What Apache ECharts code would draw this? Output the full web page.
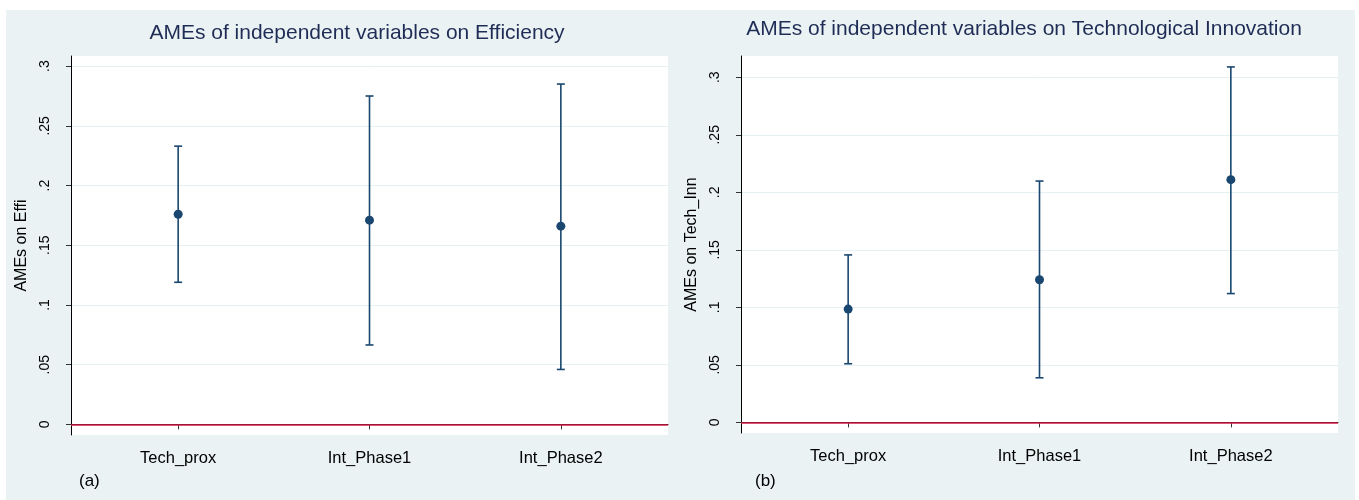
<!DOCTYPE html>
<html>
<head>
<meta charset="utf-8">
<script src="https://cdn.jsdelivr.net/npm/echarts@6/dist/echarts.min.js"></script>
<style>
  html, body { margin: 0; padding: 0; background: #ffffff; }
  #frame { position: absolute; left: 6px; top: 10px; width: 1349px; height: 490px; background: #eaf2f3; }
  #chart { width: 100%; height: 100%; }
</style>
</head>
<body>
<div id="frame"><div id="chart"></div></div>
<script>
// Variables on the x axis
const categories = ['Tech_prox', 'Int_Phase1', 'Int_Phase2'];

// Panel (a): average marginal effects on Efficiency, with 95% CI bounds
const effiEst = [0.176, 0.171, 0.166];
const effiLo  = [0.119, 0.0665, 0.046];
const effiHi  = [0.233, 0.275, 0.285];

// Panel (b): average marginal effects on Technological Innovation
const innEst = [0.0985, 0.124, 0.211];
const innLo  = [0.051, 0.0388, 0.112];
const innHi  = [0.1456, 0.2098, 0.309];

// Shared y tick values
const yTicks = [0, 0.05, 0.1, 0.15, 0.2, 0.25, 0.3];
const xTicks = [1, 2, 3];

const NAVY = '#1a476f';
const RED = '#d01c45';
const FONT = '"Liberation Sans", Arial, sans-serif';

function fmtY(v) {
  if (Math.abs(v) < 1e-9) return '0';
  return String(+v.toFixed(2)).replace(/^0\./, '.');
}

function xAxis(idx) {
  return {
    type: 'value', gridIndex: idx, min: 0.44, max: 3.56,
    axisLine: { show: true, lineStyle: { color: '#000', width: 1 } },
    axisTick: { show: true, customValues: xTicks, length: 5, lineStyle: { color: '#333' } },
    axisLabel: {
      customValues: xTicks, margin: 15, color: '#000', fontFamily: FONT, fontSize: 16.5,
      formatter: v => categories[Math.round(v) - 1] || ''
    },
    splitLine: { show: false }
  };
}

function yAxis(idx, min, max, name) {
  return {
    type: 'value', gridIndex: idx, min: min, max: max,
    name: name, nameLocation: 'middle', nameGap: 41,
    nameTextStyle: { color: '#000', fontFamily: FONT, fontSize: 16 },
    axisLine: { show: true, lineStyle: { color: '#000', width: 1 } },
    axisTick: { show: true, customValues: yTicks, length: 5, lineStyle: { color: '#333' } },
    axisLabel: {
      customValues: yTicks, rotate: 90, margin: 19, color: '#000',
      fontFamily: FONT, fontSize: 14, formatter: fmtY
    },
    splitLine: { show: true, customValues: yTicks, lineStyle: { color: '#e6eff1', width: 1 } }
  };
}

function ciData(lo, hi) {
  return categories.map((c, i) => [i + 1, lo[i], hi[i]]);
}

function pointData(est) {
  return categories.map((c, i) => [i + 1, est[i]]);
}

function renderCI(params, api) {
  const x = api.value(0);
  const a = api.coord([x, api.value(1)]);
  const b = api.coord([x, api.value(2)]);
  const w = 4;
  const st = { stroke: NAVY, lineWidth: 1.6 };
  return {
    type: 'group',
    children: [
      { type: 'line', shape: { x1: a[0], y1: a[1], x2: b[0], y2: b[1] }, style: st },
      { type: 'line', shape: { x1: a[0] - w, y1: a[1], x2: a[0] + w, y2: a[1] }, style: st },
      { type: 'line', shape: { x1: b[0] - w, y1: b[1], x2: b[0] + w, y2: b[1] }, style: st }
    ]
  };
}

function panelSeries(idx, est, lo, hi) {
  return [
    {
      type: 'custom', xAxisIndex: idx, yAxisIndex: idx,
      renderItem: renderCI, data: ciData(lo, hi), silent: true, z: 3,
      markLine: {
        silent: true, symbol: 'none', label: { show: false },
        lineStyle: { color: RED, width: 1.6, type: 'solid' },
        data: [{ yAxis: 0 }]
      }
    },
    {
      type: 'scatter', xAxisIndex: idx, yAxisIndex: idx,
      data: pointData(est), symbol: 'circle', symbolSize: 9,
      itemStyle: { color: NAVY, opacity: 1 }, z: 4, silent: true
    }
  ];
}

const chart = echarts.init(document.getElementById('chart'), null, { renderer: 'canvas' });

chart.setOption({
  animation: false,
  backgroundColor: 'transparent',
  textStyle: { fontFamily: FONT },
  title: [
    { text: 'AMEs of independent variables on Efficiency', left: 346, top: 8, textAlign: 'center',
      textStyle: { color: '#1f2d56', fontFamily: FONT, fontSize: 21, fontWeight: 'normal' } },
    { text: 'AMEs of independent variables on Technological Innovation', left: 1013, top: 4, textAlign: 'center',
      textStyle: { color: '#1f2d56', fontFamily: FONT, fontSize: 21, fontWeight: 'normal' } },
    { text: '(a)', left: 68, top: 458,
      textStyle: { color: '#000', fontFamily: FONT, fontSize: 17, fontWeight: 'normal' } },
    { text: '(b)', left: 744, top: 458,
      textStyle: { color: '#000', fontFamily: FONT, fontSize: 17, fontWeight: 'normal' } }
  ],
  grid: [
    { left: 65, top: 46, width: 597, height: 379, show: true, backgroundColor: '#ffffff', borderWidth: 0 },
    { left: 735, top: 46, width: 597, height: 377, show: true, backgroundColor: '#ffffff', borderWidth: 0 }
  ],
  xAxis: [xAxis(0), xAxis(1)],
  yAxis: [
    yAxis(0, -0.0089, 0.3085, 'AMEs on Effi'),
    yAxis(1, -0.0092, 0.3185, 'AMEs on Tech_Inn')
  ],
  series: [
    ...panelSeries(0, effiEst, effiLo, effiHi),
    ...panelSeries(1, innEst, innLo, innHi)
  ]
});
</script>
</body>
</html>
